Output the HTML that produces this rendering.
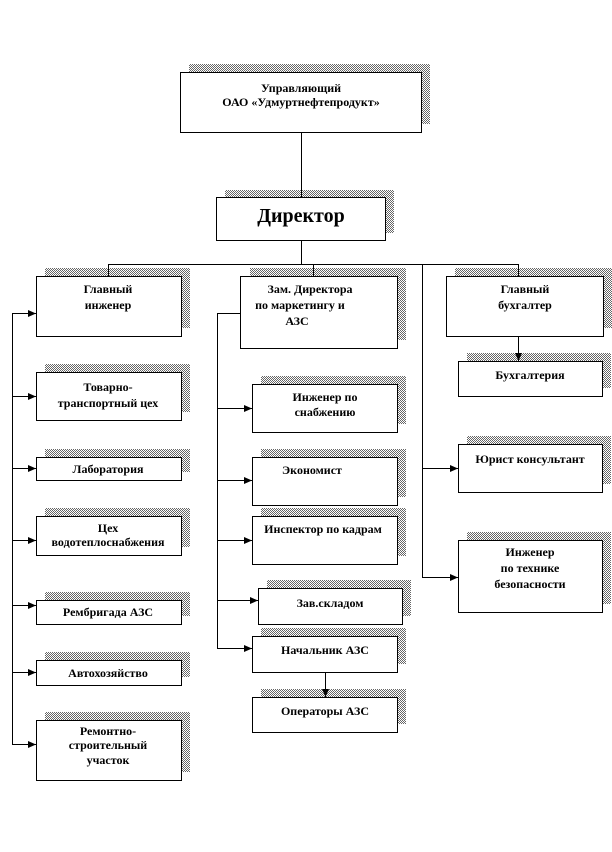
<!DOCTYPE html>
<html><head><meta charset="utf-8"><style>
html,body{margin:0;padding:0;background:#fff;}
svg{display:block;}
text{font-family:"Liberation Serif",serif;font-weight:bold;font-size:12px;fill:#000;text-anchor:middle;}
</style></head><body>
<svg width="612" height="852" viewBox="0 0 612 852" xmlns="http://www.w3.org/2000/svg">
<defs>
<pattern id="p" width="2" height="2" patternUnits="userSpaceOnUse">
<rect width="2" height="2" fill="#fff"/><rect width="1" height="1" fill="#666"/><rect x="1" y="1" width="1" height="1" fill="#666"/>
</pattern>
<marker id="a" markerWidth="9" markerHeight="9" refX="8" refY="4.5" orient="auto" markerUnits="userSpaceOnUse">
<path d="M0,1 L8,4.5 L0,8 Z" fill="#000"/>
</marker>
</defs>
<g fill="url(#p)">
<rect x="189" y="64" width="241" height="60"/>
<rect x="225" y="190" width="169" height="43"/>
<rect x="45" y="268" width="145" height="60"/>
<rect x="250" y="268" width="156" height="72"/>
<rect x="455" y="268" width="157" height="60"/>
<rect x="467" y="353" width="144" height="35"/>
<rect x="45" y="364" width="145" height="48"/>
<rect x="45" y="449" width="145" height="23"/>
<rect x="45" y="508" width="145" height="39"/>
<rect x="45" y="592" width="145" height="24"/>
<rect x="45" y="652" width="145" height="25"/>
<rect x="45" y="712" width="145" height="60"/>
<rect x="261" y="376" width="145" height="48"/>
<rect x="261" y="449" width="145" height="48"/>
<rect x="261" y="508" width="145" height="48"/>
<rect x="267" y="580" width="144" height="36"/>
<rect x="261" y="628" width="145" height="36"/>
<rect x="261" y="689" width="145" height="35"/>
<rect x="467" y="436" width="144" height="48"/>
<rect x="467" y="532" width="144" height="72"/>
</g>
<g fill="#fff" stroke="#000" stroke-width="1">
<rect x="180.5" y="72.5" width="241" height="60"/>
<rect x="216.5" y="197.5" width="169" height="43"/>
<rect x="36.5" y="276.5" width="145" height="60"/>
<rect x="240.5" y="276.5" width="157" height="72"/>
<rect x="446.5" y="276.5" width="157" height="60"/>
<rect x="458.5" y="361.5" width="144" height="35"/>
<rect x="36.5" y="372.5" width="145" height="48"/>
<rect x="36.5" y="457.5" width="145" height="23"/>
<rect x="36.5" y="516.5" width="145" height="39"/>
<rect x="36.5" y="600.5" width="145" height="24"/>
<rect x="36.5" y="660.5" width="145" height="25"/>
<rect x="36.5" y="720.5" width="145" height="60"/>
<rect x="252.5" y="384.5" width="145" height="48"/>
<rect x="252.5" y="457.5" width="145" height="48"/>
<rect x="252.5" y="516.5" width="145" height="48"/>
<rect x="258.5" y="588.5" width="144" height="36"/>
<rect x="252.5" y="636.5" width="145" height="36"/>
<rect x="252.5" y="697.5" width="145" height="35"/>
<rect x="458.5" y="444.5" width="144" height="48"/>
<rect x="458.5" y="540.5" width="144" height="72"/>
</g>
<g stroke="#000" stroke-width="1" fill="none">
<line x1="301.5" y1="132" x2="301.5" y2="197"/>
<line x1="301.5" y1="240" x2="301.5" y2="264.5"/>
<line x1="108" y1="264.5" x2="518" y2="264.5"/>
<line x1="108.5" y1="264" x2="108.5" y2="276"/>
<line x1="313.5" y1="264" x2="313.5" y2="276"/>
<line x1="518.5" y1="264" x2="518.5" y2="276"/>
<line x1="422.5" y1="264" x2="422.5" y2="577"/>
<line x1="12.5" y1="313" x2="12.5" y2="744.5"/>
<line x1="217.5" y1="313" x2="217.5" y2="648.5"/>
<line x1="217" y1="313.5" x2="240" y2="313.5"/>
<g marker-end="url(#a)">
<line x1="12" y1="313.5" x2="36" y2="313.5"/>
<line x1="12" y1="396.5" x2="36" y2="396.5"/>
<line x1="12" y1="468.5" x2="36" y2="468.5"/>
<line x1="12" y1="540.5" x2="36" y2="540.5"/>
<line x1="12" y1="605.5" x2="36" y2="605.5"/>
<line x1="12" y1="672.5" x2="36" y2="672.5"/>
<line x1="12" y1="744.5" x2="36" y2="744.5"/>
<line x1="217" y1="408.5" x2="252" y2="408.5"/>
<line x1="217" y1="480.5" x2="252" y2="480.5"/>
<line x1="217" y1="540.5" x2="252" y2="540.5"/>
<line x1="217" y1="600.5" x2="258" y2="600.5"/>
<line x1="217" y1="648.5" x2="252" y2="648.5"/>
<line x1="422" y1="468.5" x2="458" y2="468.5"/>
<line x1="422" y1="577.5" x2="458" y2="577.5"/>
<line x1="518.5" y1="336" x2="518.5" y2="361"/>
<line x1="325.5" y1="672" x2="325.5" y2="697"/>
</g>
</g>
<text x="301" y="92">Управляющий</text>
<text x="301" y="106">ОАО «Удмуртнефтепродукт»</text>
<text x="301" y="222" style="font-size:20px">Директор</text>
<text x="108" y="293">Главный</text>
<text x="108" y="309">инженер</text>
<text x="310" y="293">Зам. Директора</text>
<text x="300" y="309">по маркетингу и</text>
<text x="297" y="325">АЗС</text>
<text x="525" y="293">Главный</text>
<text x="525" y="309">бухгалтер</text>
<text x="530" y="379">Бухгалтерия</text>
<text x="108" y="391">Товарно-</text>
<text x="108" y="407">транспортный цех</text>
<text x="108" y="473">Лаборатория</text>
<text x="108" y="532">Цех</text>
<text x="108" y="546">водотеплоснабжения</text>
<text x="108" y="616">Рембригада АЗС</text>
<text x="108" y="677">Автохозяйство</text>
<text x="108" y="735">Ремонтно-</text>
<text x="108" y="749">строительный</text>
<text x="108" y="764">участок</text>
<text x="325" y="401">Инженер по</text>
<text x="325" y="416">снабжению</text>
<text x="312" y="474">Экономист</text>
<text x="323" y="533">Инспектор по кадрам</text>
<text x="330" y="607">Зав.складом</text>
<text x="325" y="654">Начальник АЗС</text>
<text x="325" y="715">Операторы АЗС</text>
<text x="530" y="463">Юрист консультант</text>
<text x="530" y="556">Инженер</text>
<text x="530" y="572">по технике</text>
<text x="530" y="588">безопасности</text>
</svg>
</body></html>
